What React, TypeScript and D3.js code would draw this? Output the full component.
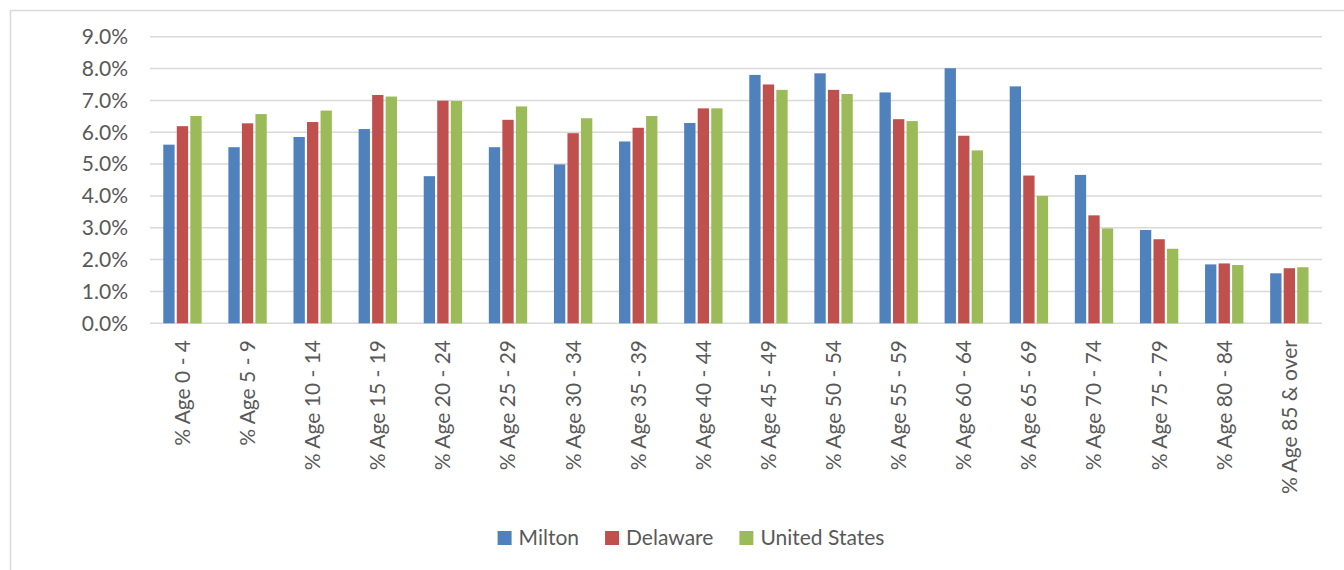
import * as d3 from "d3";
import { useLayoutEffect, useRef, useState } from "react";

const categories = [
  "% Age 0 - 4", "% Age 5 - 9", "% Age 10 - 14", "% Age 15 - 19", "% Age 20 - 24",
  "% Age 25 - 29", "% Age 30 - 34", "% Age 35 - 39", "% Age 40 - 44", "% Age 45 - 49",
  "% Age 50 - 54", "% Age 55 - 59", "% Age 60 - 64", "% Age 65 - 69", "% Age 70 - 74",
  "% Age 75 - 79", "% Age 80 - 84", "% Age 85 & over",
];

const seriesNames = ["Milton", "Delaware", "United States"];
const seriesColors = ["#4f81bd", "#c0504d", "#9bbb59"];

const milton = [5.61, 5.53, 5.85, 6.10, 4.62, 5.53, 4.99, 5.71, 6.29, 7.80, 7.85, 7.25, 8.01, 7.44, 4.66, 2.93, 1.85, 1.57];
const delaware = [6.19, 6.28, 6.32, 7.17, 6.99, 6.39, 5.97, 6.14, 6.75, 7.50, 7.33, 6.41, 5.89, 4.64, 3.39, 2.64, 1.88, 1.73];
const unitedStates = [6.51, 6.57, 6.68, 7.12, 6.98, 6.81, 6.44, 6.51, 6.75, 7.33, 7.20, 6.35, 5.43, 4.00, 2.98, 2.34, 1.83, 1.76];

const yTicks = [0, 1, 2, 3, 4, 5, 6, 7, 8, 9];

const W = 1344;
const H = 570;
const FONT = "Lato, 'Open Sans', sans-serif";
const FS = 21;
const TEXT = "#595959";
const GRID = "#d9d9d9";

export default function App() {
  const series = [milton, delaware, unitedStates];
  const legendRef = useRef<SVGGElement | null>(null);
  const [widths, setWidths] = useState<number[]>([60, 90, 130]);

  const plot = { left: 150, right: 1322, top: 36.7, bottom: 323.3 };

  const x0 = d3.scaleBand<string>()
    .domain(categories)
    .range([plot.left, plot.right])
    .paddingInner(0.377)
    .paddingOuter(0.1885);
  const x1 = d3.scaleBand<string>()
    .domain(seriesNames)
    .range([0, x0.bandwidth()]);
  const y = d3.scaleLinear().domain([0, 9]).range([plot.bottom, plot.top]);

  useLayoutEffect(() => {
    if (!legendRef.current) return;
    const texts = Array.from(legendRef.current.querySelectorAll("text")) as SVGTextElement[];
    const w = texts.map(t => t.getComputedTextLength());
    if (w.some((v, i) => Math.abs(v - widths[i]) > 0.5)) setWidths(w);
  }, [widths]);

  const sq = 14;
  const gap = 7;
  const itemGap = 26;
  const totalW = widths.reduce((a, w) => a + sq + gap + w, 0) + itemGap * (widths.length - 1);
  const legendCenter = 691;
  let cursor = legendCenter - totalW / 2;
  const legendX = widths.map(w => {
    const start = cursor;
    cursor += sq + gap + w + itemGap;
    return start;
  });

  return (
    <svg width={W} height={H} style={{ position: "absolute", left: 0, top: 0, background: "#fff" }}>
      <rect x={10.5} y={10.5} width={W + 20} height={H + 20} fill="#fff" stroke={GRID} strokeWidth={1.5} />

      {yTicks.map(t => (
        <g key={t}>
          <line x1={plot.left} x2={plot.right} y1={y(t)} y2={y(t)} stroke={GRID} strokeWidth={1.5} />
          <text x={128} y={y(t)} dy="0.35em" textAnchor="end" fontFamily={FONT} fontSize={FS} fill={TEXT}>
            {t.toFixed(1)}%
          </text>
        </g>
      ))}

      {categories.map((c, i) => (
        <g key={c} transform={`translate(${x0(c)},0)`}>
          {series.map((s, j) => {
            const bx = x1(seriesNames[j])!;
            return (
              <rect
                key={j}
                x={bx + 1}
                y={y(s[i])}
                width={x1.bandwidth() - 2.2}
                height={y(0) - y(s[i])}
                fill={seriesColors[j]}
              />
            );
          })}
        </g>
      ))}

      {categories.map(c => {
        const cx = x0(c)! + x0.bandwidth() / 2;
        return (
          <text
            key={c}
            transform={`translate(${cx},340) rotate(-90)`}
            dy="0.35em"
            textAnchor="end"
            fontFamily={FONT}
            fontSize={FS}
            fill={TEXT}
          >
            {c}
          </text>
        );
      })}

      <g ref={legendRef}>
        {seriesNames.map((n, i) => (
          <g key={n} transform={`translate(${legendX[i]},538)`}>
            <rect x={0} y={-sq / 2} width={sq} height={sq} fill={seriesColors[i]} />
            <text x={sq + gap} dy="0.35em" fontFamily={FONT} fontSize={FS} fill={TEXT}>{n}</text>
          </g>
        ))}
      </g>
    </svg>
  );
}
